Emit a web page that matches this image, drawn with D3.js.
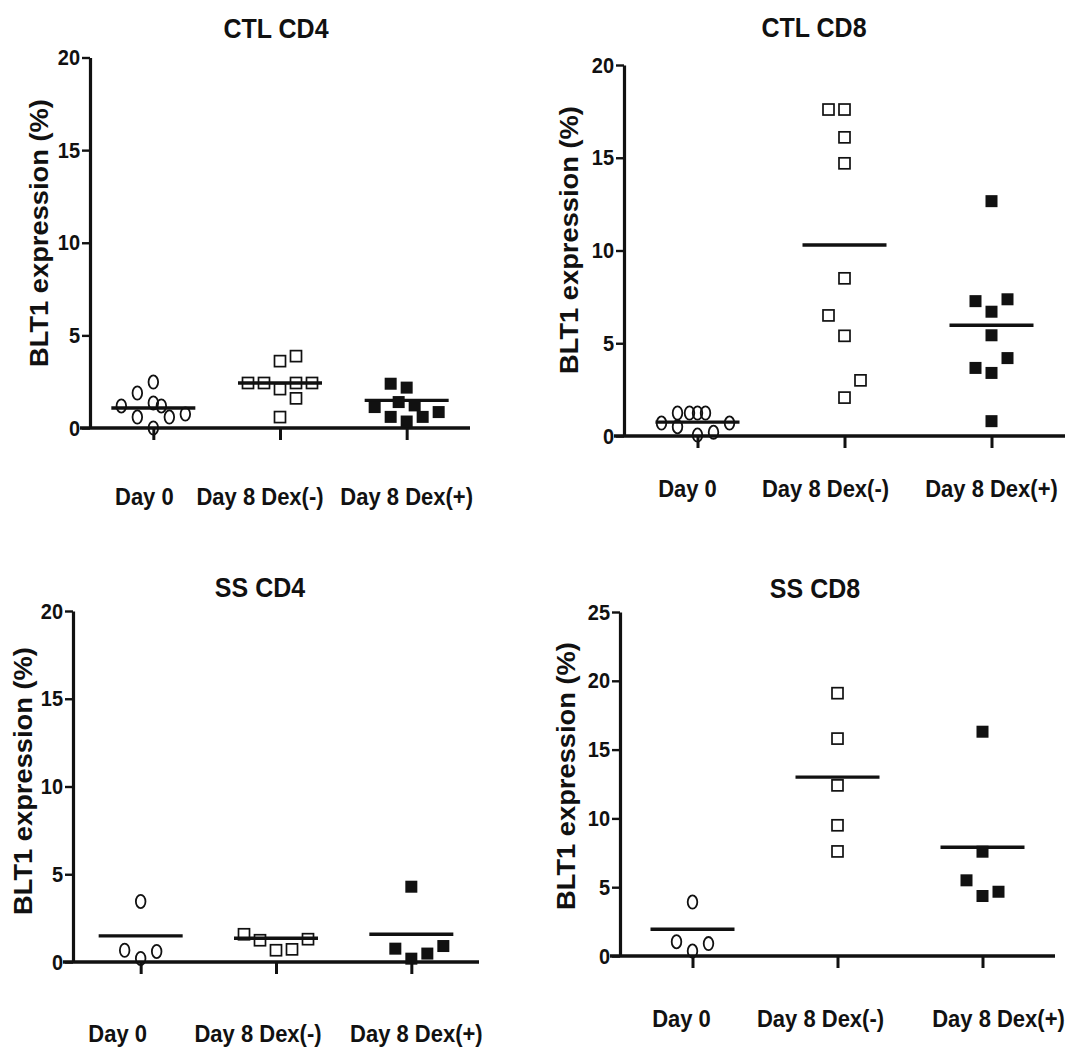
<!DOCTYPE html>
<html>
<head>
<meta charset="utf-8">
<script src="https://cdn.jsdelivr.net/npm/d3@7"></script>
<style>
  body { margin: 0; background: #fff; }
  text { font-family: "Liberation Sans", Arial, sans-serif; font-weight: bold; fill: #111; }
</style>
</head>
<body>
<script>
// categories + titles
var categories = ["Day 0", "Day 8 Dex(-)", "Day 8 Dex(+)"];
var panelTitles = ["CTL CD4", "CTL CD8", "SS CD4", "SS CD8"];
var yMax = [20, 20, 20, 25];
var yLabel = "BLT1 expression (%)";

// values, one list per group: [Day 0, Dex(-), Dex(+)]
var ctlCd4 = [
  [1.19, 1.89, 2.48, 0.59, 1.35, 1.19, 0.59, 0.75, 0.0],
  [3.61, 3.88, 2.43, 2.43, 2.1, 2.43, 1.6, 2.43, 0.59],
  [2.39, 2.18, 1.13, 1.4, 0.6, 1.22, 0.35, 0.6, 0.86]
];
var ctlCd8 = [
  [0.7, 1.24, 0.5, 1.24, 1.24, 1.24, 0.05, 0.2, 0.7],
  [17.6, 17.6, 16.1, 14.7, 8.5, 6.5, 5.4, 3.0, 2.07],
  [12.66, 7.27, 7.37, 6.7, 5.43, 4.2, 3.67, 3.4, 0.8]
];
var ssCd4 = [
  [3.45, 0.67, 0.2, 0.6],
  [1.58, 1.24, 0.67, 0.72, 1.3],
  [4.29, 0.76, 0.19, 0.48, 0.91]
];
var ssCd8 = [
  [3.92, 1.04, 0.36, 0.9],
  [19.1, 15.8, 12.4, 9.5, 7.6],
  [16.3, 7.58, 5.5, 4.36, 4.67]
];

// horizontal column (slot) of each point inside its group, like the dot plot spreads them
var ctlCd4Slots = [
  [-2, -1, 0, -1, 0, 0.5, 1, 2, 0],
  [0, 1, -2, -1, 0, 1, 1, 2, 0],
  [-1, 0, -2, -0.5, -1, 0.5, 0, 1, 2]
];
var ctlCd8Slots = [
  [-2.25, -1.25, -1.25, -0.5, 0, 0.5, 0, 1, 2],
  [-1, 0, 0, 0, 0, -1, 0, 1, 0],
  [0, -1, 1, 0, 0, 1, -1, 0, 0]
];
var ssCd4Slots = [
  [0, -1, 0, 1],
  [-2, -1, 0, 1, 2],
  [0, -1, 0, 1, 2]
];
var ssCd8Slots = [
  [0, -1, 0, 1],
  [0, 0, 0, 0, 0],
  [0, 0, -1, 0, 1]
];

// group mean lines
var ctlCd4Means = [1.08, 2.43, 1.49];
var ctlCd8Means = [0.75, 10.3, 5.97];
var ssCd4Means = [1.49, 1.35, 1.58];
var ssCd8Means = [1.94, 13.0, 7.9];

var panelValues = [ctlCd4, ctlCd8, ssCd4, ssCd8];
var panelSlots = [ctlCd4Slots, ctlCd8Slots, ssCd4Slots, ssCd8Slots];
var panelMeans = [ctlCd4Means, ctlCd8Means, ssCd4Means, ssCd8Means];

// panel frames (layout only); labelShift = how far each category label sits from its tick
var frames = [
  { left: 90,  right: 470,  top: 57.5, bottom: 428, titleX: 276, titleY: 38,  yTitleX: 39,  yTitleY: 233, labelY: 505,  labelShift: [-9, -20, 0] },
  { left: 624, right: 1065, top: 65,   bottom: 436, titleX: 814, titleY: 37,  yTitleX: 569, yTitleY: 240, labelY: 497,  labelShift: [-10, -19, 0] },
  { left: 73,  right: 479,  top: 611,  bottom: 962, titleX: 260, titleY: 597, yTitleX: 23,  yTitleY: 781, labelY: 1042, labelShift: [-23, -18, 5] },
  { left: 620, right: 1055, top: 612,  bottom: 956, titleX: 815, titleY: 598, yTitleX: 566, yTitleY: 776, labelY: 1027, labelShift: [-11, -17, 16] }
];

var vStretch = 1.12;

var svg = d3.select("body")
  .append("svg")
  .attr("width", 1070)
  .attr("height", 1051);

function addText(g, x, y, str, size, anchor) {
  return g.append("text")
    .attr("transform", `translate(${x},${y}) scale(1,${vStretch})`)
    .attr("text-anchor", anchor || "middle")
    .style("font-size", size + "px")
    .text(str);
}

frames.forEach(function(f, i) {
  var g = svg.append("g");

  var x = d3.scalePoint()
    .domain(categories)
    .range([f.left, f.right])
    .padding(0.5);

  var y = d3.scaleLinear()
    .domain([0, yMax[i]])
    .range([f.bottom, f.top]);

  var slot = d3.scaleLinear().domain([-1, 1]).range([-16, 16]);

  // y axis
  var yAxis = d3.axisLeft(y)
    .tickValues(d3.range(0, yMax[i] + 1, 5))
    .tickSize(8)
    .tickSizeOuter(0)
    .tickPadding(2);

  var ya = g.append("g")
    .attr("transform", `translate(${f.left},0)`)
    .call(yAxis);
  ya.select(".domain").attr("stroke", "#111").attr("stroke-width", 3.2);
  ya.selectAll(".tick line").attr("stroke", "#111").attr("stroke-width", 2.4);
  ya.selectAll(".tick text")
    .attr("transform", `scale(1,${vStretch})`)
    .style("font-size", "20px")
    .style("font-family", "'Liberation Sans', Arial, sans-serif")
    .style("font-weight", "bold")
    .attr("fill", "#111");

  // x axis: ticks from the point scale, line drawn a bit past the y axis
  var xAxis = d3.axisBottom(x).tickSize(12).tickSizeOuter(0).tickFormat("");
  var xa = g.append("g")
    .attr("transform", `translate(0,${y(0)})`)
    .call(xAxis);
  xa.select(".domain").remove();
  xa.selectAll(".tick line").attr("stroke", "#111").attr("stroke-width", 3);

  g.append("line")
    .attr("x1", f.left - 10)
    .attr("x2", f.right)
    .attr("y1", y(0))
    .attr("y2", y(0))
    .attr("stroke", "#111")
    .attr("stroke-width", 3.4);

  // category labels
  categories.forEach(function(c, ci) {
    addText(g, x(c) + f.labelShift[ci], f.labelY, c, 22);
  });

  // title
  addText(g, f.titleX, f.titleY, panelTitles[i], 25);

  // y title
  g.append("text")
    .attr("transform", `translate(${f.yTitleX},${f.yTitleY}) rotate(-90) scale(1.05,1)`)
    .attr("text-anchor", "middle")
    .attr("dominant-baseline", "central")
    .style("font-size", "26px")
    .text(yLabel);

  // points
  var pts = [];
  panelValues[i].forEach(function(vals, gi) {
    vals.forEach(function(v, k) {
      pts.push({ cat: categories[gi], group: gi, value: v, slot: panelSlots[i][gi][k] });
    });
  });

  // mean lines
  g.selectAll(".mean")
    .data(panelMeans[i])
    .enter()
    .append("line")
    .attr("x1", (d, gi) => x(categories[gi]) - 42)
    .attr("x2", (d, gi) => x(categories[gi]) + 42)
    .attr("y1", d => y(d))
    .attr("y2", d => y(d))
    .attr("stroke", "#111")
    .attr("stroke-width", 3.4);

  g.selectAll(".dot0")
    .data(pts.filter(d => d.group === 0))
    .enter()
    .append("ellipse")
    .attr("cx", d => x(d.cat) + slot(d.slot))
    .attr("cy", d => y(d.value))
    .attr("rx", 4.8)
    .attr("ry", 6.6)
    .attr("fill", "none")
    .attr("stroke", "#111")
    .attr("stroke-width", 1.8);

  g.selectAll(".dot1")
    .data(pts.filter(d => d.group === 1))
    .enter()
    .append("rect")
    .attr("x", d => x(d.cat) + slot(d.slot) - 5.5)
    .attr("y", d => y(d.value) - 5.5)
    .attr("width", 11)
    .attr("height", 11)
    .attr("fill", "none")
    .attr("stroke", "#111")
    .attr("stroke-width", 1.7);

  g.selectAll(".dot2")
    .data(pts.filter(d => d.group === 2))
    .enter()
    .append("rect")
    .attr("x", d => x(d.cat) + slot(d.slot) - 6)
    .attr("y", d => y(d.value) - 6)
    .attr("width", 12)
    .attr("height", 12)
    .attr("fill", "#111");
});
</script>
</body>
</html>
